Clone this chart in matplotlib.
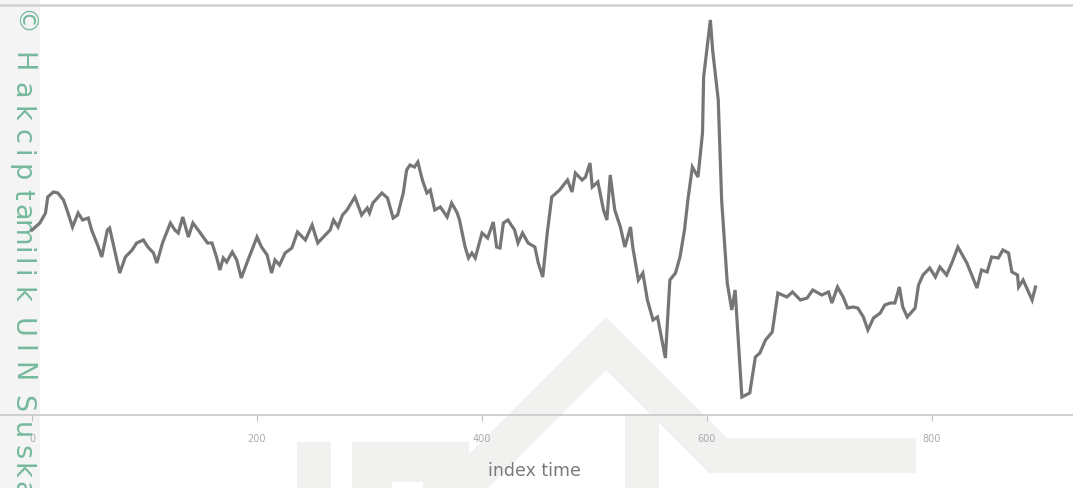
import numpy as np
import matplotlib.pyplot as plt
from matplotlib.patches import Polygon, Rectangle

# values (index time, level in arbitrary units)
idx = [0, 7, 12, 14, 19, 23, 28, 32, 36, 41, 45, 50, 53, 59, 62, 67, 69, 74, 78, 83,
       89, 93, 99, 103, 108, 111, 116, 123, 127, 130, 134, 139, 143, 149, 156, 160, 164, 167, 170, 173,
       178, 182, 186, 191, 200, 204, 209, 213, 216, 220, 225, 231, 236, 243, 249, 254, 259, 265, 268, 272,
       276, 280, 287, 293, 298, 300, 303, 311, 316, 321, 325, 330, 333, 336, 340, 343, 347, 351, 354, 358,
       363, 369, 373, 378, 380, 385, 388, 391, 394, 400, 405, 410, 413, 416, 419, 423, 429, 432, 436, 441,
       447, 450, 454, 458, 462, 469, 476, 480, 483, 489, 492, 496, 498, 503, 508, 511, 514, 518, 523, 527,
       532, 534, 539, 543, 547, 552, 556, 563, 567, 572, 576, 580, 583, 587, 592, 596, 597, 603, 605, 610,
       613, 618, 622, 625, 631, 638, 643, 647, 652, 658, 663, 671, 676, 683, 689, 694, 702, 708, 711, 716,
       721, 725, 730, 734, 739, 743, 748, 754, 758, 763, 767, 771, 774, 778, 785, 788, 792, 798, 803, 807,
       813, 818, 823, 831, 840, 844, 849, 853, 859, 863, 868, 871, 876, 877, 881, 885, 889, 892]
level = [185, 192, 202, 218, 223, 222, 215, 202, 188, 202, 195, 197, 185, 168, 158, 185, 187, 162, 142, 158,
         165, 172, 175, 168, 162, 152, 172, 192, 185, 182, 198, 178, 192, 183, 172, 172, 158, 145, 157, 153,
         163, 155, 137, 152, 178, 168, 160, 142, 155, 150, 162, 167, 183, 175, 190, 172, 178, 185, 195, 188,
         200, 205, 218, 200, 207, 202, 212, 222, 217, 197, 200, 222, 245, 250, 248, 253, 235, 222, 225, 205,
         208, 198, 212, 202, 195, 168, 157, 162, 157, 182, 177, 193, 168, 167, 192, 195, 185, 172, 182, 172,
         168, 152, 138, 182, 218, 225, 235, 223, 242, 235, 238, 252, 228, 233, 205, 195, 240, 205, 188, 168,
         188, 168, 135, 142, 115, 95, 98, 57, 135, 142, 158, 185, 215, 248, 238, 282, 338, 395, 365, 315,
         215, 132, 105, 125, 18, 22, 58, 62, 75, 83, 122, 118, 123, 115, 117, 125, 120, 123, 112, 128,
         118, 107, 108, 107, 98, 85, 97, 102, 110, 112, 112, 128, 108, 98, 107, 130, 140, 147, 138, 148,
         140, 153, 168, 152, 127, 145, 143, 158, 157, 165, 162, 143, 140, 128, 135, 125, 115, 128]
xticks = [0, 200, 400, 600, 800]

W, H = 1073, 488
fig = plt.figure(figsize=(W / 100, H / 100), dpi=100)
fig.patch.set_facecolor('white')


def fx(px):
    return px / W


def fy(py):
    return 1 - py / H


# faint house watermark behind the chart
wm = '#f1f1f0'
roof = [(606, 317), (727, 438), (916, 438), (916, 473), (709, 473), (606, 370),
        (488, 488), (435, 488)]
fig.patches.append(Polygon([(fx(a), fy(b)) for a, b in roof], closed=True,
                           transform=fig.transFigure, facecolor=wm, edgecolor='none', zorder=0))
for (x0, y0, x1, y1) in [(297, 442, 331, 488), (352, 442, 469, 488), (625, 415, 659, 488)]:
    fig.patches.append(Rectangle((fx(x0), fy(y1)), fx(x1) - fx(x0), fy(y0) - fy(y1),
                                 transform=fig.transFigure, facecolor=wm, edgecolor='none', zorder=0))
fig.patches.append(Rectangle((fx(392), 0), fx(423) - fx(392), fy(482), transform=fig.transFigure,
                             facecolor='white', edgecolor='none', zorder=0))

# left copyright band, letter-spaced like the original
fig.patches.append(Rectangle((0, 0), fx(40), 1, transform=fig.transFigure,
                             facecolor='#f4f4f4', edgecolor='none', zorder=0))
wm_text = '\u00a9 Hak cipta milik UIN Suska'
char_y = [23, None, 62, 90, 114, None, 136, 154, 173, 194, 212, None, 233, 251, 262, 274, 295, None,
          328, 349, 372, None, 404, 431, 452, 471, 489]
for ch, cy in zip(wm_text, char_y):
    if cy is None:
        continue
    fig.text(fx(21), fy(cy), ch, rotation=270, color='#76b99c',
             fontsize=19.5, ha='center', va='center', zorder=1)

# top separator line
fig.add_artist(plt.Line2D([0, 1], [fy(5), fy(5)], transform=fig.transFigure,
                          color='#d4d4d4', lw=2, zorder=1))

ax = fig.add_axes([0, fy(415), 1, fy(5) - fy(415)])
ax.set_zorder(2)
ax.patch.set_alpha(0)
ax.plot(idx, level, color='#767676', lw=2.3, solid_joinstyle='miter')

ax.set_xlim(-32 / 1.125, (W - 32) / 1.125)
ax.set_ylim(0, 410)
for s in ['top', 'left', 'right']:
    ax.spines[s].set_visible(False)
ax.spines['bottom'].set_color('#c8c8c8')
ax.spines['bottom'].set_linewidth(1.2)
ax.set_yticks([])
ax.set_xticks(xticks)
ax.tick_params(axis='x', length=4, color='#c0c0c0', labelsize=7, labelcolor='#aaaaaa', pad=10)

fig.text(fx(534), fy(471), 'index time', ha='center', va='center', fontsize=12.5, color='#7a7a7a')

fig.savefig('out.png', dpi=100)
